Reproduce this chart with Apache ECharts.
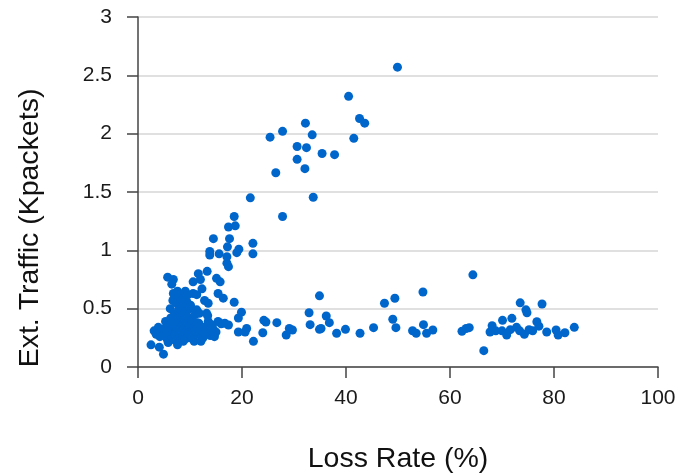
<!DOCTYPE html>
<html>
<head>
<meta charset="utf-8">
<script src="https://cdn.jsdelivr.net/npm/echarts@6/dist/echarts.min.js"></script>
<style>
  html, body { margin: 0; padding: 0; background: #fff; }
  #chart { width: 680px; height: 473px; }
</style>
</head>
<body>
<div id="chart"></div>
<script>
// Loss rate (%) and external traffic (Kpackets) per measurement, paired by index.
const lossRate = [
  // steep rising branch
  49.9, 40.5, 42.6, 43.6, 41.5, 32.2, 27.8, 25.4, 33.5, 30.6, 32.4, 35.4, 37.8, 30.6, 32.1, 26.5,
  33.7, 21.6, 27.8, 18.5, 17.4, 18.7, 14.5, 17.6, 22.1, 17.2, 19.4, 19.0, 13.8, 13.8, 15.6, 17.1,
  22.1, 17.1, 17.4, 11.6, 13.3, 12.0, 10.6, 15.1, 15.8, 5.7, 6.8, 6.5, 15.4, 16.4, 13.5, 18.5,
  19.9, 19.3, 11.3, 13.2,
  // high-loss flat band
  64.4, 66.5, 73.5, 77.7, 74.6, 74.8, 62.3, 63.1, 63.7, 67.7, 68.1, 68.8, 70.1, 70.0, 70.9, 71.9,
  71.6, 72.8, 73.4, 74.3, 75.2, 75.9, 76.7, 77.1, 78.6, 80.4, 80.8, 82.1, 83.9,
  // mid-loss flat band
  24.2, 24.6, 24.0, 26.7, 28.5, 29.1, 29.7, 32.9, 34.9, 33.1, 34.9, 35.2, 36.2, 36.8, 38.2, 39.9,
  42.7, 45.3, 47.4, 49.4, 49.0, 49.6, 52.8, 53.5, 54.8, 54.9, 55.5, 56.7, 19.3, 20.9, 20.6, 22.2,
  14.5, 15.4, 16.7, 17.4, 11.7, 13.5,
  // low-loss cluster
  2.5, 4.1, 4.9, 3.1, 3.9, 4.4, 4.9, 5.3, 5.6, 5.8, 5.2, 5.7, 6.0, 6.2, 6.3, 6.5,
  6.6, 6.8, 6.9, 7.0, 7.1, 7.2, 7.3, 7.4, 7.5, 7.6, 7.6, 7.7, 7.8, 7.9, 8.0, 8.1,
  8.2, 8.3, 8.4, 8.5, 8.6, 8.7, 8.8, 8.9, 9.0, 9.1, 9.2, 9.3, 9.4, 9.5, 9.6, 9.8,
  9.9, 10.0, 10.1, 10.3, 10.4, 10.6, 10.8, 10.9, 11.0, 11.3, 11.5, 11.8, 12.1, 12.1, 12.3, 12.6,
  12.8, 13.4, 13.8, 13.9, 14.7, 15.0, 16.0, 5.0, 6.0, 6.4, 7.0, 8.0, 8.6, 9.0, 9.7, 10.2,
  11.0, 11.4, 12.5, 6.7, 8.3, 9.6, 7.2, 3.5, 4.2, 5.5, 11.5, 12.5, 13.0, 14.0, 14.3
];

const extTraffic = [
  // steep rising branch
  2.57, 2.32, 2.13, 2.09, 1.96, 2.09, 2.02, 1.97, 1.99, 1.89, 1.88, 1.83, 1.82, 1.78, 1.70, 1.665,
  1.455, 1.45, 1.29, 1.29, 1.20, 1.21, 1.10, 1.10, 1.06, 1.03, 1.01, 0.98, 0.99, 0.96, 0.97, 0.945,
  0.97, 0.89, 0.86, 0.80, 0.82, 0.75, 0.73, 0.76, 0.73, 0.77, 0.75, 0.71, 0.63, 0.59, 0.546, 0.555,
  0.47, 0.42, 0.49, 0.46,
  // high-loss flat band
  0.79, 0.14, 0.55, 0.54, 0.49, 0.465, 0.306, 0.33, 0.337, 0.30, 0.354, 0.31, 0.40, 0.31, 0.274, 0.417,
  0.32, 0.34, 0.31, 0.28, 0.32, 0.31, 0.388, 0.35, 0.30, 0.317, 0.274, 0.294, 0.34,
  // mid-loss flat band
  0.40, 0.386, 0.294, 0.38, 0.274, 0.33, 0.317, 0.465, 0.61, 0.363, 0.323, 0.33, 0.437, 0.38, 0.289, 0.323,
  0.289, 0.337, 0.546, 0.589, 0.409, 0.337, 0.311, 0.289, 0.643, 0.363, 0.289, 0.317, 0.30, 0.33, 0.30, 0.22,
  0.32, 0.39, 0.375, 0.36, 0.375, 0.39,
  // low-loss cluster
  0.19, 0.17, 0.11, 0.31, 0.34, 0.30, 0.28, 0.39, 0.24, 0.21, 0.33, 0.36, 0.29, 0.50, 0.42, 0.26,
  0.32, 0.63, 0.37, 0.45, 0.23, 0.30, 0.55, 0.41, 0.35, 0.19, 0.65, 0.27, 0.49, 0.32, 0.39, 0.60,
  0.25, 0.44, 0.30, 0.36, 0.53, 0.22, 0.41, 0.33, 0.47, 0.65, 0.28, 0.38, 0.56, 0.31, 0.43, 0.25,
  0.35, 0.50, 0.53, 0.30, 0.40, 0.63, 0.22, 0.34, 0.45, 0.62, 0.28, 0.46, 0.22, 0.27, 0.67, 0.30,
  0.57, 0.44, 0.37, 0.27, 0.26, 0.30, 0.37, 0.27, 0.35, 0.38, 0.28, 0.29, 0.27, 0.24, 0.29, 0.26,
  0.31, 0.38, 0.34, 0.57, 0.58, 0.62, 0.62, 0.28, 0.26, 0.30, 0.33, 0.25, 0.30, 0.32, 0.36
];

const xTicks = { min: 0, max: 100, step: 20 };
const yTicks = { min: 0, max: 3, step: 0.5 };

const points = lossRate.map((x, i) => [x, extTraffic[i]]);

const FONT = '"Liberation Sans", Arial, sans-serif';
const chart = echarts.init(document.getElementById('chart'), null, { renderer: 'canvas' });

chart.setOption({
  animation: false,
  backgroundColor: '#ffffff',
  grid: { left: 138, right: 22, top: 17, bottom: 106, containLabel: false, outerBoundsMode: 'none' },
  xAxis: {
    type: 'value',
    min: xTicks.min, max: xTicks.max, interval: xTicks.step,
    name: 'Loss Rate (%)',
    nameLocation: 'middle',
    nameGap: 78,
    nameTextStyle: { fontFamily: FONT, fontSize: 28.5, color: '#111' },
    axisLine: { show: true, lineStyle: { color: '#444', width: 1.5 } },
    axisTick: { show: true, length: 11, lineStyle: { color: '#444', width: 1.5 } },
    axisLabel: { fontFamily: FONT, fontSize: 21, color: '#1a1a1a', margin: 21 },
    splitLine: { show: false }
  },
  yAxis: {
    type: 'value',
    min: yTicks.min, max: yTicks.max, interval: yTicks.step,
    axisLine: { show: true, lineStyle: { color: '#444', width: 1.5 } },
    axisTick: { show: true, length: 11, lineStyle: { color: '#444', width: 1.5 } },
    axisLabel: { fontFamily: FONT, fontSize: 21, color: '#1a1a1a', margin: 26 },
    splitLine: { show: true, lineStyle: { color: '#d6d6d6', width: 1.5 } }
  },
  graphic: [{
    type: 'text',
    x: 30, y: 228,
    rotation: Math.PI / 2,
    style: {
      text: 'Ext. Traffic (Kpackets)',
      font: '28.5px ' + FONT,
      fill: '#111',
      align: 'center',
      verticalAlign: 'middle'
    }
  }],
  series: [{
    type: 'scatter',
    data: points,
    symbol: 'circle',
    symbolSize: 9,
    itemStyle: { color: '#0066cc', opacity: 1 }
  }]
});
</script>
</body>
</html>
